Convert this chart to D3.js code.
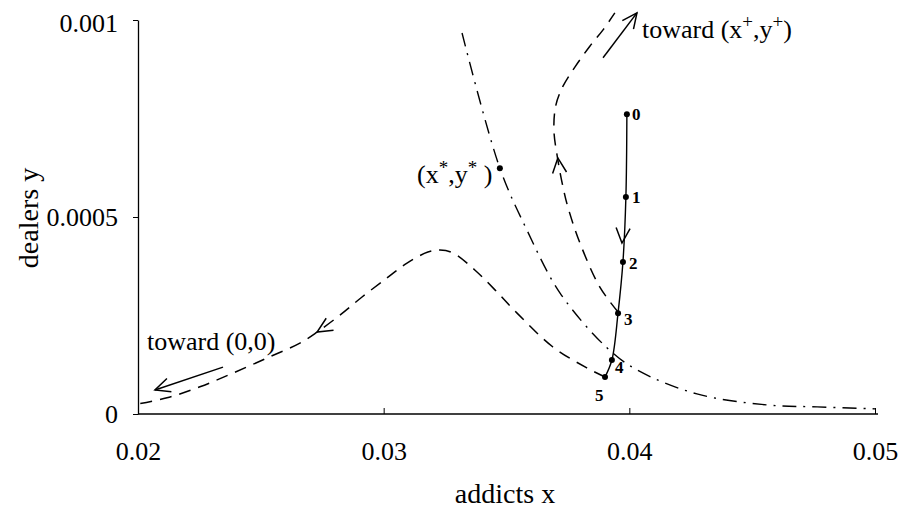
<!DOCTYPE html>
<html>
<head>
<meta charset="utf-8">
<script src="https://cdn.jsdelivr.net/npm/d3@7"></script>
<style>
  body { margin: 0; background: #fff; }
  svg text { font-family: "Liberation Serif", "Times New Roman", serif; fill: #000; }
</style>
</head>
<body>
<div class="svg-container"></div>
<script>
// ticks
var xTicks = [0.02, 0.03, 0.04, 0.05];
var yTicks = [0, 0.0005, 0.001];

// trajectory points 0..5
var trajX = [0.03990, 0.03986, 0.03974, 0.03954, 0.03929, 0.03901];
var trajY = [0.000761, 0.000551, 0.000386, 0.000256, 0.000137, 0.000094];
var trajLabels = ["0", "1", "2", "3", "4", "5"];

// dash-dot curve through (x*,y*)
var sepX = [0.03319, 0.03473, 0.03583, 0.03718, 0.03909, 0.04031, 0.04275, 0.0456, 0.04764, 0.0500];
var sepY = [0.000967, 0.000624, 0.000467, 0.000307, 0.000168, 0.000112, 0.000051, 0.000023, 0.000018, 0.000013];

// dashed curve going up toward (x+,y+)
var upX = [0.03954, 0.03880, 0.03799, 0.03750, 0.03730, 0.03709, 0.03693, 0.03701, 0.03730, 0.03779, 0.03840, 0.03893, 0.03941];
var upY = [0.000259, 0.000322, 0.000434, 0.000525, 0.000576, 0.000645, 0.000721, 0.000784, 0.000832, 0.000881, 0.000934, 0.000975, 0.001018];

// dashed curve going down toward (0,0)
var lowX = [0.03901, 0.03827, 0.03689, 0.03543, 0.03453, 0.03372, 0.03282, 0.03229, 0.03180, 0.03095, 0.03013, 0.02912, 0.02822, 0.02729, 0.02659, 0.02525, 0.02387, 0.02252, 0.02118, 0.01980];
var lowY = [0.000094, 0.000117, 0.000170, 0.000256, 0.000315, 0.000365, 0.000409, 0.000416, 0.000411, 0.000383, 0.000345, 0.000297, 0.000251, 0.000208, 0.000180, 0.000142, 0.000104, 0.000069, 0.000041, 0.000023];

// equilibrium
var eqX = [0.03473];
var eqY = [0.000624];

// arrows: [x0, y0, x1, y1], drawn line or head only
var lineArrows = [
  [0.02346, 0.000119, 0.02069, 0.000061],
  [0.03893, 0.000904, 0.04031, 0.001018]
];
var headArrows = [
  [0.03974, 0.000467, 0.03970, 0.000434],
  [0.03717, 0.000607, 0.03709, 0.000650],
  [0.02802, 0.000236, 0.02729, 0.000208]
];

var width = 902, height = 511;

var svg = d3.select(".svg-container")
  .append("svg")
    .attr("width", width)
    .attr("height", height);

var x = d3.scaleLinear().domain([0.02, 0.05]).range([138, 875]);
var y = d3.scaleLinear().domain([0, 0.001]).range([414, 20]);

// open V arrowhead
svg.append("defs").append("marker")
    .attr("id", "vhead")
    .attr("markerUnits", "userSpaceOnUse")
    .attr("viewBox", "-16 -8 18 16")
    .attr("markerWidth", 18)
    .attr("markerHeight", 16)
    .attr("refX", 0)
    .attr("refY", 0)
    .attr("orient", "auto")
  .append("path")
    .attr("d", "M-15,-7L0,0L-15,7")
    .attr("fill", "none")
    .attr("stroke", "#000")
    .attr("stroke-width", 1.5);

// axes
var xAxis = d3.axisBottom(x).tickValues(xTicks).tickSize(-6).tickSizeOuter(0).tickFormat(d3.format(".2f"));
var gx = svg.append("g")
  .attr("transform", "translate(0," + y(0) + ")")
  .call(xAxis);
gx.select(".domain").attr("d", "M" + x(0.02) + ",0H" + (x(0.05) + 3)).attr("stroke-width", 1.5);
gx.selectAll("text").attr("y", 46).attr("dy", 0).attr("font-size", 26).attr("font-family", null);

var yAxis = d3.axisLeft(y).tickValues(yTicks).tickSize(5).tickSizeOuter(0)
  .tickFormat(function(d) { return d === 0 ? "0" : d === 0.0005 ? "0.0005" : "0.001"; });
var gy = svg.append("g")
  .attr("transform", "translate(" + x(0.02) + ",0)")
  .call(yAxis);
gy.select(".domain").attr("stroke-width", 1.3);
gy.selectAll("text").attr("x", -20).attr("dy", "0.32em").attr("font-size", 26).attr("font-family", null);
gy.selectAll(".tick").filter(function(d) { return d === 0.001; }).select("text").attr("dy", "0.45em");

// axis titles
svg.append("text")
  .attr("x", 505).attr("y", 503)
  .attr("text-anchor", "middle")
  .attr("font-size", 28)
  .text("addicts x");

svg.append("text")
  .attr("transform", "translate(38,218) rotate(-90)")
  .attr("text-anchor", "middle")
  .attr("font-size", 28)
  .text("dealers y");

var line = d3.line()
  .x(function(d) { return x(d[0]); })
  .y(function(d) { return y(d[1]); })
  .curve(d3.curveCatmullRom.alpha(0.5));

var zip = function(xs, ys) { return xs.map(function(v, i) { return [v, ys[i]]; }); };

// dash-dot curve
svg.append("path")
  .datum(zip(sepX, sepY))
  .attr("d", line)
  .attr("fill", "none")
  .attr("stroke", "#000")
  .attr("stroke-width", 1.4)
  .attr("stroke-dasharray", "14,7,2,7");

// dashed curves
[zip(upX, upY), zip(lowX, lowY)].forEach(function(pts) {
  svg.append("path")
    .datum(pts)
    .attr("d", line)
    .attr("fill", "none")
    .attr("stroke", "#000")
    .attr("stroke-width", 1.5)
    .attr("stroke-dasharray", "12,8");
});

// trajectory
var traj = zip(trajX, trajY);
svg.append("path")
  .datum(traj)
  .attr("d", line)
  .attr("fill", "none")
  .attr("stroke", "#000")
  .attr("stroke-width", 1.4);

svg.selectAll("circle.traj")
  .data(traj)
  .enter()
  .append("circle")
    .attr("class", "traj")
    .attr("cx", function(d) { return x(d[0]); })
    .attr("cy", function(d) { return y(d[1]); })
    .attr("r", 3)
    .attr("fill", "#000");

var labelOffsets = [[5, 6], [6, 6], [6, 7], [6, 12], [3, 13], [-10, 24]];
svg.selectAll("text.traj")
  .data(traj)
  .enter()
  .append("text")
    .attr("class", "traj")
    .attr("x", function(d, i) { return x(d[0]) + labelOffsets[i][0]; })
    .attr("y", function(d, i) { return y(d[1]) + labelOffsets[i][1]; })
    .attr("font-size", 17)
    .attr("font-weight", "bold")
    .text(function(d, i) { return trajLabels[i]; });

// equilibrium point
svg.append("circle")
  .attr("cx", x(eqX[0]))
  .attr("cy", y(eqY[0]))
  .attr("r", 3)
  .attr("fill", "#000");

var eqLabel = svg.append("text")
  .attr("x", 417).attr("y", 183)
  .attr("font-size", 26);
eqLabel.append("tspan").text("(x");
eqLabel.append("tspan").attr("dy", -9).attr("font-size", 19).text("*");
eqLabel.append("tspan").attr("dy", 9).text(",y");
eqLabel.append("tspan").attr("dy", -9).attr("font-size", 19).text("*");
eqLabel.append("tspan").attr("dy", 9).text(" )");

// arrows
svg.selectAll("line.arrow")
  .data(lineArrows)
  .enter()
  .append("line")
    .attr("class", "arrow")
    .attr("x1", function(d) { return x(d[0]); })
    .attr("y1", function(d) { return y(d[1]); })
    .attr("x2", function(d) { return x(d[2]); })
    .attr("y2", function(d) { return y(d[3]); })
    .attr("stroke", "#000")
    .attr("stroke-width", 1.5)
    .attr("marker-end", "url(#vhead)");

svg.selectAll("line.head")
  .data(headArrows)
  .enter()
  .append("line")
    .attr("class", "head")
    .attr("x1", function(d) { return x(d[0]); })
    .attr("y1", function(d) { return y(d[1]); })
    .attr("x2", function(d) { return x(d[2]); })
    .attr("y2", function(d) { return y(d[3]); })
    .attr("stroke", "none")
    .attr("marker-end", "url(#vhead)");

// annotations
svg.append("text")
  .attr("x", 147).attr("y", 350)
  .attr("font-size", 26)
  .text("toward (0,0)");

var plusLabel = svg.append("text")
  .attr("x", 642).attr("y", 38)
  .attr("font-size", 26);
plusLabel.append("tspan").text("toward (x");
plusLabel.append("tspan").attr("dy", -10).attr("font-size", 19).text("+");
plusLabel.append("tspan").attr("dy", 10).text(",y");
plusLabel.append("tspan").attr("dy", -10).attr("font-size", 19).text("+");
plusLabel.append("tspan").attr("dy", 10).text(")");
</script>
</body>
</html>
